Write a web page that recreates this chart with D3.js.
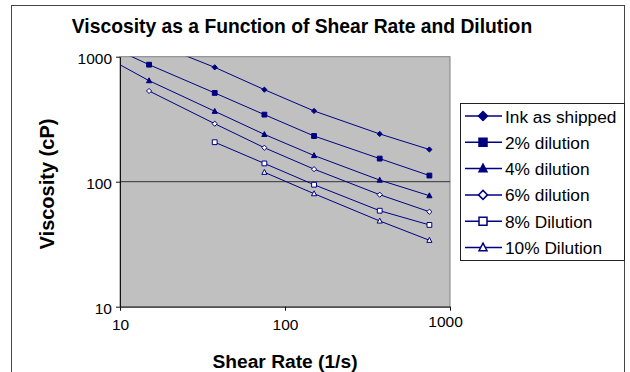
<!DOCTYPE html>
<html>
<head>
<meta charset="utf-8">
<script src="https://cdn.jsdelivr.net/npm/d3@7"></script>
<style>
  body { margin: 0; background: #fff; }
  text { font-family: "Liberation Sans", Arial, sans-serif; }
</style>
</head>
<body>
<svg id="chart" width="630" height="372"></svg>
<script>
// shear rates (1/s) and viscosities (cP), null where a series has no reading
const shearRate = [7.5, 15, 37.5, 75, 150, 375, 750];
const inkShipped = [null, 1330, 822, 545, 368, 241, 181];
const dil2 = [1320, 863, 513, 344, 232, 153, 112];
const dil4 = [1060, 643, 366, 239, 162, 103, 77.3];
const dil6 = [null, 532, 291, 187, 126, 78.7, 57.5];
const dil8 = [null, null, 207, 140, 94.6, 58.6, 45.1];
const dil10 = [null, null, null, 119, 80.2, 48.5, 34.0];
const seriesNames = ["Ink as shipped", "2% dilution", "4% dilution", "6% dilution", "8% Dilution", "10% Dilution"];
const xTicks = [10, 100, 1000];
const yTicks = [10, 100, 1000];

const seriesValues = [inkShipped, dil2, dil4, dil6, dil8, dil10];
const markers = [
  {shape: "diamond", fill: true},
  {shape: "square", fill: true},
  {shape: "triangle", fill: true},
  {shape: "diamond", fill: false},
  {shape: "square", fill: false},
  {shape: "triangle", fill: false}
];
const navy = "#000080";

const svg = d3.select("#chart");
const plot = {left: 120, top: 56.7, right: 450, bottom: 306.7};

// outer chart border
svg.append("rect")
  .attr("x", 11.5).attr("y", 5.5).attr("width", 613).attr("height", 380)
  .attr("fill", "none").attr("stroke", "#444").attr("stroke-width", 1);

svg.append("text")
  .attr("x", 302).attr("y", 33)
  .attr("text-anchor", "middle")
  .attr("font-size", 19.3).attr("font-weight", "bold")
  .text("Viscosity as a Function of Shear Rate and Dilution");

const x = d3.scaleLog().domain([10, 1000]).range([plot.left, plot.right]);
const y = d3.scaleLog().domain([10, 1000]).range([plot.bottom, plot.top]);

// plot area
svg.append("rect")
  .attr("x", plot.left).attr("y", plot.top)
  .attr("width", plot.right - plot.left).attr("height", plot.bottom - plot.top)
  .attr("fill", "#c0c0c0").attr("stroke", "#808080").attr("stroke-width", 1);

// major gridlines
svg.append("g").selectAll("line")
  .data(yTicks.slice(1, -1))
  .join("line")
  .attr("x1", plot.left).attr("x2", plot.right)
  .attr("y1", d => y(d)).attr("y2", d => y(d))
  .attr("stroke", "#333").attr("stroke-width", 1);

svg.append("clipPath").attr("id", "clip")
  .append("rect")
  .attr("x", plot.left).attr("y", plot.top)
  .attr("width", plot.right - plot.left).attr("height", plot.bottom - plot.top);

// axes
const xAxis = d3.axisBottom(x).tickValues(xTicks).tickFormat(d3.format("d")).tickSize(4).tickSizeOuter(0).tickPadding(8);
const yAxis = d3.axisLeft(y).tickValues(yTicks).tickFormat(d3.format("d")).tickSize(4).tickSizeOuter(0).tickPadding(4);

const gx = svg.append("g").attr("transform", `translate(0,${plot.bottom})`).call(xAxis);
const gy = svg.append("g").attr("transform", `translate(${plot.left},0)`).call(yAxis);
[gx, gy].forEach(g => {
  g.select(".domain").attr("stroke", "#111");
  g.selectAll(".tick line").attr("stroke", "#111");
  g.selectAll(".tick text").attr("font-size", 15.5).attr("fill", "#000")
    .attr("font-family", "'Liberation Sans', Arial, sans-serif");
});
gy.selectAll(".tick text").attr("dy", "0.45em");
// Excel nudges the last x label up and left
gx.selectAll(".tick text").filter(d => d === 1000).attr("transform", "translate(-5,-3)");

svg.append("text")
  .attr("x", 285).attr("y", 368)
  .attr("text-anchor", "middle")
  .attr("font-size", 19.2).attr("font-weight", "bold")
  .text("Shear Rate (1/s)");

svg.append("text")
  .attr("transform", "translate(54,184) rotate(-90)")
  .attr("text-anchor", "middle")
  .attr("font-size", 20).attr("font-weight", "bold")
  .text("Viscosity (cP)");

function markerPath(shape, s) {
  if (shape === "diamond") return `M0,${-s}L${s},0L0,${s}L${-s},0Z`;
  if (shape === "square") return `M${-s},${-s}H${s}V${s}H${-s}Z`;
  return `M0,${-s * 1.1}L${s},${s * 0.8}H${-s}Z`;
}

const line = d3.line()
  .defined(d => d.v != null)
  .x(d => x(d.x)).y(d => y(d.v));

const series = seriesValues.map((vals, i) => ({
  name: seriesNames[i],
  marker: markers[i],
  points: shearRate.map((sr, j) => ({x: sr, v: vals[j]}))
}));

const plotG = svg.append("g").attr("clip-path", "url(#clip)");

plotG.selectAll("path.series")
  .data(series)
  .join("path")
  .attr("class", "series")
  .attr("d", d => line(d.points))
  .attr("fill", "none")
  .attr("stroke", navy)
  .attr("stroke-width", 1);

series.forEach(s => {
  const sizes = {diamond: 2.6, square: 2.4, triangle: 2.6};
  plotG.selectAll(null)
    .data(s.points.filter(p => p.v != null))
    .join("path")
    .attr("transform", p => `translate(${x(p.x)},${y(p.v)})`)
    .attr("d", markerPath(s.marker.shape, sizes[s.marker.shape]))
    .attr("fill", s.marker.fill ? navy : "#fff")
    .attr("stroke", navy)
    .attr("stroke-width", 1);
});

// legend
const legend = svg.append("g");
legend.append("rect")
  .attr("x", 460.5).attr("y", 103.5).attr("width", 164).attr("height", 157)
  .attr("fill", "#fff").attr("stroke", "#222").attr("stroke-width", 1);

const item = legend.selectAll("g.item")
  .data(series)
  .join("g")
  .attr("class", "item")
  .attr("transform", (d, i) => `translate(0,${116 + i * 26.3})`);

item.append("line")
  .attr("x1", 465).attr("x2", 502)
  .attr("stroke", navy).attr("stroke-width", 1.5);

item.append("path")
  .attr("transform", "translate(483,0)")
  .attr("d", d => markerPath(d.marker.shape, d.marker.shape === "diamond" ? 4.5 : 4))
  .attr("fill", d => d.marker.fill ? navy : "#fff")
  .attr("stroke", navy)
  .attr("stroke-width", 1.5);

item.append("text")
  .attr("x", 505).attr("y", 6.5)
  .attr("font-size", 17.3)
  .text(d => d.name);
</script>
</body>
</html>
